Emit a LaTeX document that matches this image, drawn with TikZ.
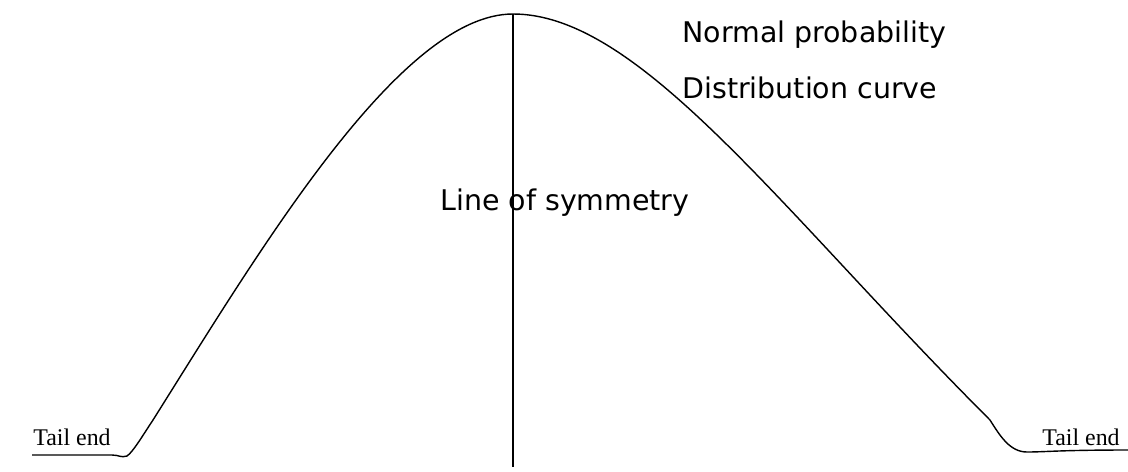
\documentclass[tikz,border=0pt]{standalone}
\usepackage{fontspec}
\setmainfont{Liberation Serif}
\setsansfont{DejaVu Sans}
\usetikzlibrary{positioning}
\tikzset{curve/.style={line width=0.8pt,line join=round},
  symline/.style={line width=0.8pt},
  lbl/.style={anchor=base west,inner sep=0pt,font=\sffamily\fontsize{16.2}{20}\selectfont},
  taillbl/.style={anchor=base west,inner sep=0pt,font=\fontsize{13.6}{16}\selectfont}}

\begin{document}
\begin{tikzpicture}[x=0.02cm,y=-0.02cm]
\useasboundingbox (0,0) rectangle (1128,471);
\coordinate (peak) at (513,14);
\coordinate (foot) at (513,467);
% bell curve, traced by hand
\draw[curve] (32,455) -- (112,455) .. controls (119,455) and (121,458) .. (127,456)
  .. controls (133,452) and (143,435) .. (153,420)
  .. controls (260,250) and (400,14) .. (peak)
  .. controls (640,14) and (780,210) .. (990,420)
  .. controls (1000,436) and (1010,452) .. (1027,452)
  .. controls (1045,452) and (1060,450) .. (1128,450);
% line of symmetry
\draw[symline] (peak) -- (foot);
% labels
\node[lbl] (title1) at (682,42) {Normal probability};
\node[lbl] (title2) at (682,98) {Distribution curve};
\node[lbl] (sym) at (440,210) {Line of symmetry};
\node[taillbl] (tailL) at (33,445) {Tail end};
\node[taillbl] (tailR) at (1042,445) {Tail end};
\end{tikzpicture}
\end{document}
